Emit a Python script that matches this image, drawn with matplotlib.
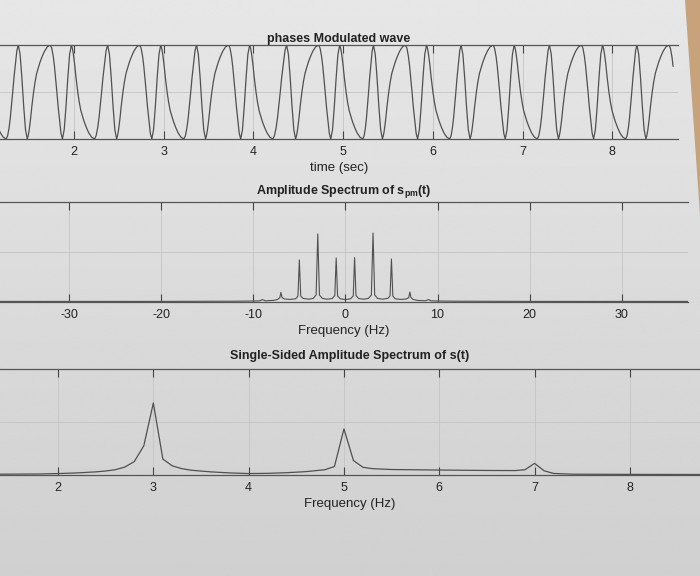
import numpy as np
import matplotlib
matplotlib.use('Agg')
import matplotlib.pyplot as plt
from matplotlib.patches import Polygon

plt.rcParams['font.family'] = ['Liberation Sans', 'DejaVu Sans']
plt.rcParams['mathtext.fontset'] = 'custom'
plt.rcParams['mathtext.rm'] = 'Liberation Sans'
plt.rcParams['mathtext.bf'] = 'Liberation Sans:bold'

# ---------------- data ----------------
# phase-modulated wave: times (s) of successive peaks (+1) / troughs (-1)
pm_extrema_t = [0.986, 1.244,
                1.379, 1.479, 1.736, 1.871, 1.971, 2.229,
                2.375, 2.475, 2.732, 2.867, 2.967, 3.225,
                3.366, 3.466, 3.723, 3.858, 3.958, 4.216,
                4.370, 4.470, 4.727, 4.862, 4.962, 5.220,
                5.338, 5.438, 5.695, 5.830, 5.930, 6.188,
                6.315, 6.415, 6.672, 6.807, 6.907, 7.165,
                7.300, 7.400, 7.657, 7.792, 7.892, 8.150,
                8.275, 8.375, 8.632, 8.767]
pm_extrema_y = [1, -1,
                1, -1, 1, -1, 1, -1,
                1, -1, 1, -1, 1, -1,
                1, -1, 1, -1, 1, -1,
                1, -1, 1, -1, 1, -1,
                1, -1, 1, -1, 1, -1,
                1, -1, 1, -1, 1, -1,
                1, -1, 1, -1, 1, -1,
                1, -1, 1, -1]
pm_t_end = 8.68   # where the trace stops
# shape of each half-cycle kind, read from one period of the trace
# (fraction of the half-cycle time, fraction of the swing completed)
pm_segment_kinds = ['D', 'A', 'F', 'D', 'A', 'F']
shape_time = {
    'F': [0, 0.2, 0.4, 0.5, 0.6, 0.8, 1.0],
    'D': [0, 0.04, 0.08, 0.137, 0.2, 0.274, 0.34, 0.41, 0.55, 0.65, 0.75, 0.87, 1.0],
    'A': [0, 0.12, 0.24, 0.34, 0.44, 0.54, 0.64, 0.77, 0.88, 1.0],
}
shape_swing = {
    'F': [0, 0.1, 0.35, 0.5, 0.65, 0.9, 1.0],
    'D': [0, 0.035, 0.09, 0.2, 0.35, 0.5, 0.61, 0.7, 0.815, 0.88, 0.935, 0.98, 1.0],
    'A': [0, 0.035, 0.12, 0.225, 0.36, 0.5, 0.65, 0.81, 0.94, 1.0],
}

# two-sided amplitude spectrum of s_pm(t)
spec2_freq = [-37.5, -20, -12, -10, -9.3, -9.0, -8.7, -7.8, -7.35, -7.12, -7.0, -6.88,
              -6.6, -6.0, -5.4, -5.15, -5.0, -4.85, -4.6, -4.0, -3.5, -3.18, -3.0,
              -2.82, -2.5, -2.0, -1.45, -1.15, -1.0, -0.85, -0.55, 0.0,
              0.55, 0.85, 1.0, 1.15, 1.45, 2.0, 2.5, 2.82, 3.0, 3.18, 3.5, 4.0,
              4.6, 4.85, 5.0, 5.15, 5.4, 6.0, 6.6, 6.88, 7.0, 7.12, 7.35, 7.8,
              8.7, 9.0, 9.3, 10, 12, 20, 37.2]
spec2_amp = [0.003, 0.003, 0.004, 0.005, 0.006, 0.012, 0.006, 0.008, 0.013, 0.022, 0.048, 0.022,
             0.015, 0.013, 0.016, 0.030, 0.210, 0.030, 0.018, 0.014, 0.018, 0.035, 0.340,
             0.035, 0.018, 0.014, 0.017, 0.032, 0.220, 0.030, 0.016, 0.012,
             0.016, 0.030, 0.222, 0.032, 0.017, 0.014, 0.018, 0.035, 0.345, 0.035, 0.018, 0.014,
             0.018, 0.030, 0.215, 0.030, 0.016, 0.013, 0.015, 0.022, 0.050, 0.022, 0.013, 0.008,
             0.006, 0.012, 0.006, 0.005, 0.004, 0.003, 0.003]

# single-sided amplitude spectrum of s(t)
spec1_freq = [1.39, 1.8, 2.0, 2.2, 2.4, 2.5, 2.6, 2.7, 2.8, 2.9, 3.0, 3.1, 3.2, 3.3, 3.4,
              3.6, 3.8, 4.0, 4.2, 4.4, 4.6, 4.8, 4.9, 5.0, 5.1, 5.2, 5.3, 5.5, 6.0, 6.5,
              6.8, 6.9, 7.0, 7.1, 7.2, 7.4, 8.0, 8.74]
spec1_amp = [0.008, 0.010, 0.014, 0.020, 0.030, 0.038, 0.050, 0.075, 0.127, 0.276, 0.680,
             0.150, 0.086, 0.060, 0.045, 0.030, 0.020, 0.014, 0.016, 0.022, 0.032, 0.050,
             0.080, 0.435, 0.136, 0.073, 0.060, 0.052, 0.047, 0.043, 0.042, 0.050, 0.110,
             0.040, 0.015, 0.008, 0.006, 0.005]

top_ticks = [2, 3, 4, 5, 6, 7, 8]
mid_ticks = [-30, -20, -10, 0, 10, 20, 30]
bot_ticks = [2, 3, 4, 5, 6, 7, 8]

# ---------------- build the PM trace from the read extrema ----------------
pm_t, pm_y = [], []
for i in range(len(pm_extrema_t) - 1):
    kind = pm_segment_kinds[i % 6]
    t0, t1 = pm_extrema_t[i], pm_extrema_t[i + 1]
    y0, y1 = pm_extrema_y[i], pm_extrema_y[i + 1]
    for ft, fs in zip(shape_time[kind], shape_swing[kind]):
        if pm_t and ft == 0:
            continue
        tt = t0 + ft * (t1 - t0)
        if tt > pm_t_end:
            break
        pm_t.append(tt)
        pm_y.append(y0 + fs * (y1 - y0))

# ---------------- drawing ----------------
ink = '#222222'
line_c = '#505050'
grid_c = '#c4c4c4'

fig = plt.figure(figsize=(7.0, 5.76), dpi=100, facecolor='#dddddd')

# paper background (photo of a printout): soft vertical shading + desk corner
bg = fig.add_axes([0, 0, 1, 1], zorder=-5)
shade = np.linspace(0.905, 0.815, 200).reshape(-1, 1)
bg.imshow(shade, cmap='gray', vmin=0, vmax=1, aspect='auto',
          extent=(0, 1, 0, 1), interpolation='bilinear')
bg.add_patch(Polygon([(685 / 700, 1.0), (1.0, 1.0), (1.0, 1 - 215 / 576)],
                     closed=True, facecolor='#c7a27a', edgecolor='none'))
bg.set_xlim(0, 1)
bg.set_ylim(0, 1)
bg.axis('off')


def style(ax, xticks, yticks, xlim, ylim):
    ax.patch.set_alpha(0)
    ax.set_xlim(*xlim)
    ax.set_ylim(*ylim)
    ax.set_xticks(xticks)
    ax.set_xticklabels([str(v) for v in xticks])
    ax.set_yticks(yticks)
    ax.set_yticklabels([])
    ax.tick_params(axis='x', direction='in', length=6, width=0.8, color='#444444',
                   top=True, bottom=True, pad=5, labelsize=9, labelcolor=ink)
    ax.tick_params(axis='y', length=0)
    ax.grid(True, color=grid_c, linewidth=0.6)
    for s in ['left', 'right']:
        ax.spines[s].set_visible(False)
    for s in ['top', 'bottom']:
        ax.spines[s].set_color('#555555')
        ax.spines[s].set_linewidth(0.9)


# top: phase modulated wave
ax1 = fig.add_axes([0.0, 0.7587, 0.9686, 0.1632])
style(ax1, top_ticks, [-1, 0, 1], (1.175, 8.733), (-1, 1))
ax1.plot(pm_t, pm_y, color=line_c, linewidth=0.9)
ax1.set_title('phases Modulated wave', fontsize=9, fontweight='bold', color=ink, pad=2)
ax1.set_xlabel('time (sec)', fontsize=9.5, color=ink, labelpad=3)

# middle: two-sided spectrum
ax2 = fig.add_axes([0.0, 0.4757, 0.9829, 0.1736])
style(ax2, mid_ticks, [0, 0.25, 0.5], (-37.5, 37.2), (0, 0.5))
ax2.plot(spec2_freq, spec2_amp, color=line_c, linewidth=0.8)
ax2.set_title(r'Amplitude Spectrum of s$_{\mathbf{pm}}$(t)', fontsize=9,
              fontweight='bold', color=ink, pad=6)
ax2.set_xlabel('Frequency (Hz)', fontsize=9.5, color=ink, labelpad=3)

# bottom: single-sided spectrum
ax3 = fig.add_axes([0.0, 0.1753, 1.0, 0.1840])
style(ax3, bot_ticks, [0, 0.5, 1.0], (1.391, 8.736), (0, 1))
ax3.plot(spec1_freq, spec1_amp, color=line_c, linewidth=0.9)
ax3.set_title('Single-Sided Amplitude Spectrum of s(t)', fontsize=9,
              fontweight='bold', color=ink, pad=7)
ax3.set_xlabel('Frequency (Hz)', fontsize=9.5, color=ink, labelpad=3)

fig.savefig('out.png', dpi=100)
